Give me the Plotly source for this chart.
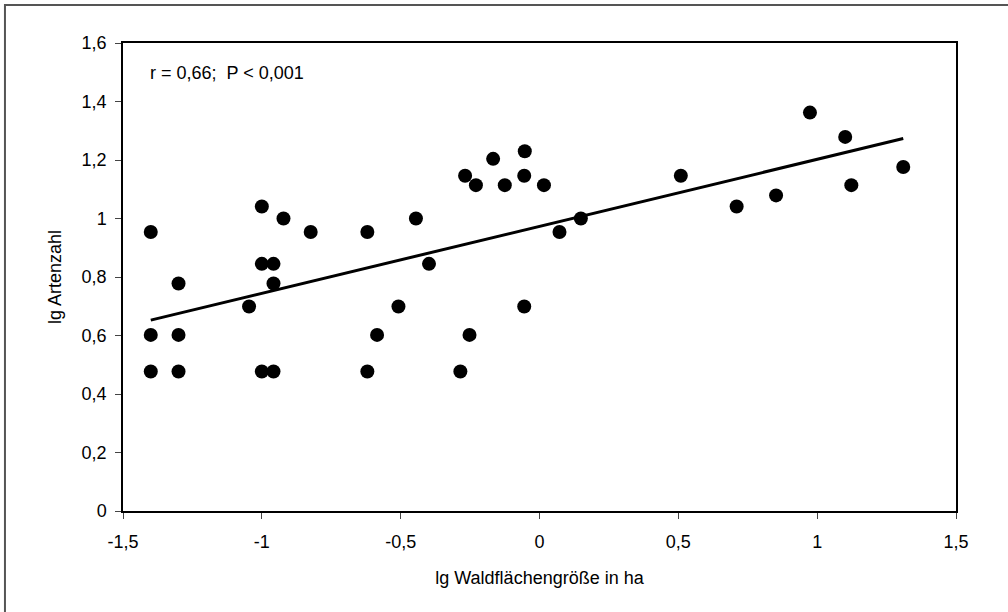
import numpy as np
import plotly.graph_objects as go

# lg Waldflächengröße (ha) und lg Artenzahl
lg_flaeche = [-1.4, -1.4, -1.4, -1.3, -1.3, -1.3, -1.046, -1.0, -1.0, -1.0,
              -0.958, -0.958, -0.958, -0.922, -0.824, -0.620, -0.620, -0.585, -0.508, -0.445,
              -0.398, -0.285, -0.268, -0.252, -0.229, -0.167, -0.125, -0.055, -0.053, -0.055,
              0.016, 0.072, 0.149, 0.509, 0.710, 0.852, 0.974, 1.101, 1.123, 1.310]
lg_arten = [0.954, 0.602, 0.477, 0.778, 0.602, 0.477, 0.699, 1.041, 0.845, 0.477,
            0.845, 0.778, 0.477, 1.0, 0.954, 0.954, 0.477, 0.602, 0.699, 1.0,
            0.845, 0.477, 1.146, 0.602, 1.114, 1.204, 1.114, 1.146, 1.230, 0.699,
            1.114, 0.954, 1.0, 1.146, 1.041, 1.079, 1.362, 1.279, 1.114, 1.176]

x_ticks = [-1.5, -1.0, -0.5, 0.0, 0.5, 1.0, 1.5]
x_ticktext = ["-1,5", "-1", "-0,5", "0", "0,5", "1", "1,5"]
y_ticks = [0, 0.2, 0.4, 0.6, 0.8, 1.0, 1.2, 1.4, 1.6]
y_ticktext = ["0", "0,2", "0,4", "0,6", "0,8", "1", "1,2", "1,4", "1,6"]

# lineare Regression
steigung, achsenabschnitt = np.polyfit(lg_flaeche, lg_arten, 1)
x_fit = np.array([min(lg_flaeche), max(lg_flaeche)])
y_fit = achsenabschnitt + steigung * x_fit

fig = go.Figure()

fig.add_trace(
    go.Scatter(
        x=lg_flaeche,
        y=lg_arten,
        mode='markers',
        marker=dict(color='black', size=14),
        showlegend=False
    )
)

fig.add_trace(
    go.Scatter(
        x=x_fit,
        y=y_fit,
        mode='lines',
        line=dict(color='black', width=3),
        showlegend=False
    )
)

fig.add_annotation(
    x=0.03, y=0.936, xref='paper', yref='paper',
    text='r = 0,66;\u00a0 P < 0,001',
    showarrow=False, xanchor='left', yanchor='middle',
    font=dict(size=18, color='black')
)

# äußerer Rahmen (läuft rechts und unten aus dem Bild)
fig.add_shape(
    type='rect', xref='paper', yref='paper',
    x0=-0.1417, x1=1.2, y0=-0.4, y1=1.081,
    line=dict(color='#555555', width=2)
)

fig.update_layout(
    width=1008,
    height=612,
    margin=dict(l=123, r=52, t=43, b=101),
    paper_bgcolor='white',
    plot_bgcolor='white',
    font=dict(family='Liberation Sans, Arial', size=18, color='black'),
    showlegend=False
)

fig.update_xaxes(
    range=[-1.5, 1.5],
    tickvals=x_ticks,
    ticktext=x_ticktext,
    ticks='outside',
    ticklen=6,
    tickcolor='#444444',
    ticklabelstandoff=8,
    showline=True,
    linecolor='black',
    linewidth=1.5,
    mirror=True,
    showgrid=False,
    zeroline=False,
    title=dict(text='lg Waldflächengröße in ha', font=dict(size=18), standoff=20)
)

fig.update_yaxes(
    range=[0, 1.6],
    tickvals=y_ticks,
    ticktext=y_ticktext,
    ticks='outside',
    ticklen=6,
    tickcolor='#444444',
    ticklabelstandoff=5,
    showline=True,
    linecolor='black',
    linewidth=1.5,
    mirror=True,
    showgrid=False,
    zeroline=False,
    title=dict(text='lg Artenzahl', font=dict(size=18), standoff=15)
)

fig.write_html("out.html", config={'displayModeBar': False},
               post_script="document.body.style.margin='0';")
